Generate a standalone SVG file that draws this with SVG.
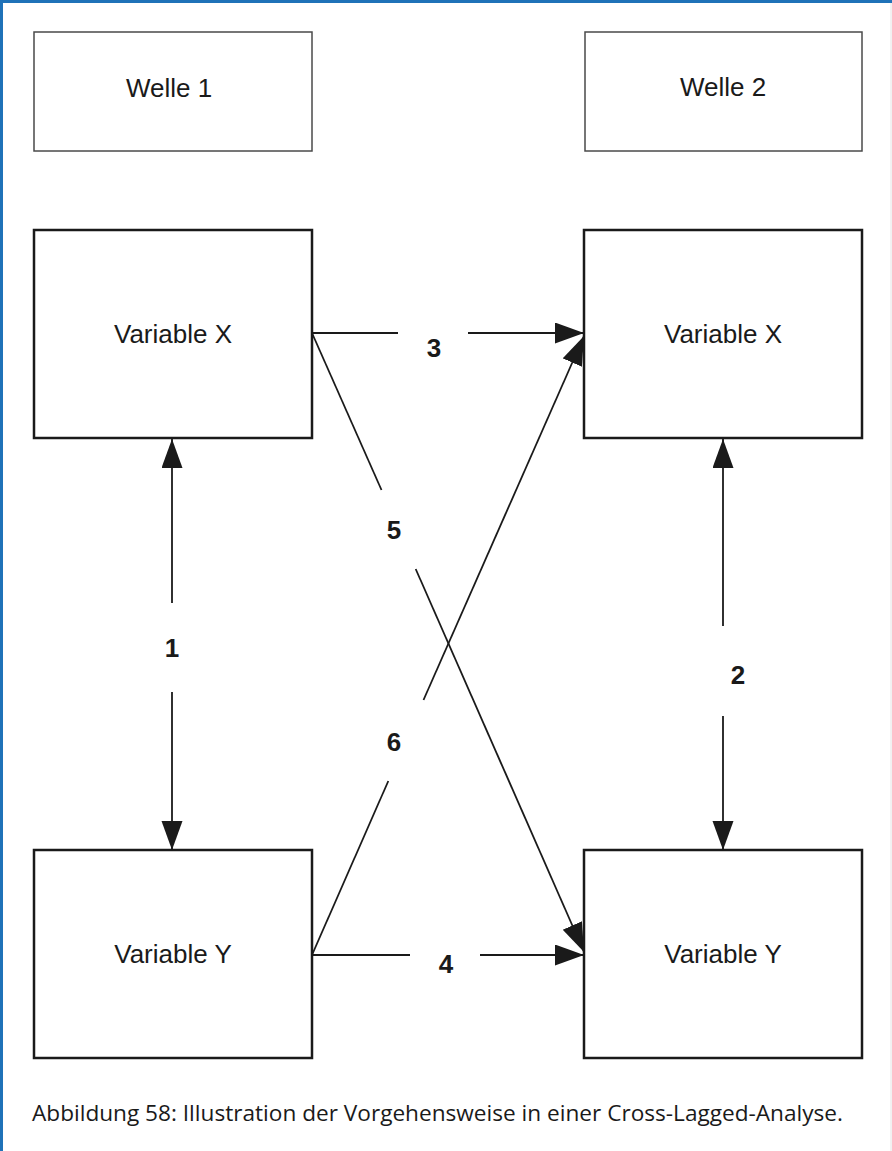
<svg xmlns="http://www.w3.org/2000/svg" width="892" height="1151" viewBox="0 0 892 1151">
<style>
.frame{stroke:#1f72b8;stroke-width:3;fill:none}
.wbox{fill:#fff;stroke:#4a4a4a;stroke-width:1.5}
.vbox{fill:#fff;stroke:#1a1a1a;stroke-width:2.5}
.lbl{font-family:"Liberation Sans",Arial,sans-serif;font-size:26px;fill:#1a1a1a;text-anchor:middle}
.num{font-family:"Liberation Sans",Arial,sans-serif;font-size:26px;font-weight:bold;fill:#1a1a1a;text-anchor:middle}
.cap{font-family:"Open Sans","Noto Sans",sans-serif;font-size:21px;fill:#1a1a1a}
.ln{stroke:#1a1a1a;stroke-width:1.8;fill:none}
</style>
<defs>
<marker id="ah" markerUnits="userSpaceOnUse" markerWidth="30" markerHeight="22" refX="29" refY="10.5" orient="auto">
<path d="M0,0 L29,10.5 L0,21 Z" fill="#1a1a1a"/>
</marker>
</defs>
<rect width="892" height="1151" fill="#fff"/>
<line x1="0" y1="1.5" x2="892" y2="1.5" class="frame"/>
<line x1="1.5" y1="0" x2="1.5" y2="1151" class="frame"/>
<line x1="891" y1="3" x2="891" y2="1151" stroke="#e4e4e4" stroke-width="1"/>

<g id="welle1"><rect class="wbox" x="34" y="32" width="278" height="119"/><text class="lbl" x="169" y="97">Welle 1</text></g>
<g id="welle2"><rect class="wbox" x="585" y="32" width="277" height="119"/><text class="lbl" x="723" y="96">Welle 2</text></g>
<g id="x1"><rect class="vbox" x="34" y="230" width="278" height="208"/><text class="lbl" x="173" y="343">Variable X</text></g>
<g id="x2"><rect class="vbox" x="584" y="230" width="278" height="208"/><text class="lbl" x="723" y="343">Variable X</text></g>
<g id="y1"><rect class="vbox" x="34" y="850" width="278" height="208"/><text class="lbl" x="173" y="963">Variable Y</text></g>
<g id="y2"><rect class="vbox" x="584" y="850" width="278" height="208"/><text class="lbl" x="723" y="963">Variable Y</text></g>

<g id="connectors">
<line class="ln" x1="172" y1="603" x2="172" y2="439" marker-end="url(#ah)"/>
<line class="ln" x1="172" y1="692" x2="172" y2="850" marker-end="url(#ah)"/>
<text class="num" x="172" y="657">1</text>
<line class="ln" x1="723" y1="626" x2="723" y2="439" marker-end="url(#ah)"/>
<line class="ln" x1="723" y1="716" x2="723" y2="850" marker-end="url(#ah)"/>
<text class="num" x="738" y="684">2</text>
<line class="ln" x1="312" y1="333" x2="398" y2="333"/>
<line class="ln" x1="468" y1="333" x2="584" y2="333" marker-end="url(#ah)"/>
<text class="num" x="434" y="357">3</text>
<line class="ln" x1="312" y1="955" x2="410" y2="955"/>
<line class="ln" x1="480" y1="955" x2="584" y2="955" marker-end="url(#ah)"/>
<text class="num" x="446" y="973">4</text>
<line class="ln" x1="312" y1="333" x2="381.5" y2="490"/>
<line class="ln" x1="415.7" y1="569" x2="584" y2="952" marker-end="url(#ah)"/>
<text class="num" x="394" y="539">5</text>
<line class="ln" x1="312" y1="955" x2="388.3" y2="781"/>
<line class="ln" x1="423.5" y1="700" x2="584" y2="336" marker-end="url(#ah)"/>
<text class="num" x="394" y="751">6</text>
</g>

<text class="cap" x="32" y="1121" textLength="811" lengthAdjust="spacingAndGlyphs">Abbildung 58: Illustration der Vorgehensweise in einer Cross-Lagged-Analyse.</text>
</svg>
